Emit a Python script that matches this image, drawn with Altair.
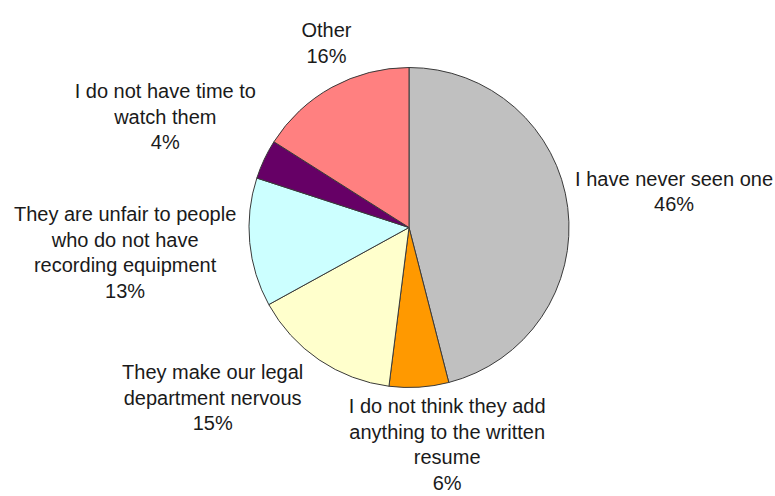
import math
import altair as alt
import pandas as pd

# ---------------- data ----------------
categories = [
    "I have never seen one",
    "I do not think they add\nanything to the written\nresume",
    "They make our legal\ndepartment nervous",
    "They are unfair to people\nwho do not have\nrecording equipment",
    "I do not have time to\nwatch them",
    "Other",
]
values = [46, 6, 15, 13, 4, 16]
colors = ["#C0C0C0", "#FF9900", "#FFFFCC", "#CCFFFF", "#660066", "#FF8080"]

# ---------------- layout ----------------
W, H = 775, 496
PAD_L, PAD_B = 43, 41
PLOT_W, PLOT_H = W - PAD_L, H - PAD_B
CX = PAD_L + PLOT_W / 2
CY = PLOT_H / 2
R = 160
FONT = 20
LH = 25.5
GAP = 10
MARGIN = 45

# Arial / Liberation Sans advance widths (1/1000 em)
ARIAL = {
    " ": 278, "a": 556, "b": 556, "c": 500, "d": 556, "e": 556, "f": 278, "g": 556,
    "h": 556, "i": 222, "j": 222, "k": 500, "l": 222, "m": 833, "n": 556, "o": 556,
    "p": 556, "q": 556, "r": 333, "s": 500, "t": 278, "u": 556, "v": 500, "w": 722,
    "x": 500, "y": 500, "z": 500, "I": 278, "T": 611, "O": 778, "%": 889,
}


def text_width(s):
    return sum(ARIAL.get(ch, 556) for ch in s) / 1000 * FONT


texts = [f"{c}\n{v}%" for c, v in zip(categories, values)]
nlines = [len(t.split("\n")) for t in texts]
hw = [max(text_width(line) for line in t.split("\n")) / 2 for t in texts]
hh = [((k - 1) * LH + 0.93 * FONT) / 2 for k in nlines]

total = sum(values)
cum = 0
mids = []
for v in values:
    mids.append(360 * (cum + v / 2) / total)
    cum += v


def center_at(i, a_deg):
    a = math.radians(a_deg)
    s, c = math.sin(a), math.cos(a)
    d = R + GAP + hw[i] * abs(s) + hh[i] * abs(c)
    return CX + d * s, CY - d * c


def box(i, a):
    x, y = center_at(i, a)
    return (x - hw[i], x + hw[i], y - hh[i], y + hh[i])


def overlap(b1, b2, m):
    return (b1[0] < b2[1] + m and b2[0] < b1[1] + m and
            b1[2] < b2[3] + m and b2[2] < b1[3] + m)


# push neighbouring labels apart (larger slices give more room)
angles = list(mids)
n = len(values)
for _ in range(3000):
    moved = False
    for i in range(n):
        j = (i + 1) % n
        if overlap(box(i, angles[i]), box(j, angles[j]), MARGIN):
            wi, wj = values[i], values[j]
            angles[i] -= 0.2 * wi / (wi + wj)
            angles[j] += 0.2 * wj / (wi + wj)
            moved = True
    if not moved:
        break

lab_theta, lab_r = [], []
for i in range(n):
    x, y = center_at(i, angles[i])
    x = min(max(x, hw[i] + 2), W - hw[i] - 2)
    y = min(max(y, hh[i] + 2), H - hh[i] - 2)
    # text anchor = first line (Vega does not re-centre multi-line blocks)
    y_anchor = y - (nlines[i] - 1) * LH / 2 - 1
    lab_theta.append(math.degrees(math.atan2(x - CX, -(y_anchor - CY))) % 360)
    lab_r.append(math.hypot(x - CX, y_anchor - CY))

df = pd.DataFrame({
    "idx": list(range(n)),
    "category": categories,
    "value": values,
    "text": texts,
    "lab_theta": lab_theta,
    "lab_r": lab_r,
})

base = alt.Chart(df)

pie = base.mark_arc(radius=R, stroke="#3a3a3a", strokeWidth=1).encode(
    theta=alt.Theta("value:Q", stack=True),
    color=alt.Color("category:N", scale=alt.Scale(domain=categories, range=colors), legend=None),
    order=alt.Order("idx:Q"),
)

labels = base.mark_text(
    lineBreak="\n", align="center", baseline="middle",
    font="Liberation Sans", fontSize=FONT, lineHeight=LH, color="#1a1a1a",
).encode(
    theta=alt.Theta("lab_theta:Q", scale=alt.Scale(domain=[0, 360], range=[0, 2 * math.pi])),
    radius=alt.Radius("lab_r:Q", scale=None),
    text=alt.Text("text:N"),
)

chart = alt.layer(pie, labels).resolve_scale(theta="independent").properties(
    width=PLOT_W,
    height=PLOT_H,
    padding={"left": PAD_L, "right": 0, "top": 0, "bottom": PAD_B},
    autosize=alt.AutoSizeParams(type="none"),
    background="white",
).configure_view(stroke=None)

chart.save("out.html", embed_options={"renderer": "svg", "actions": False})
